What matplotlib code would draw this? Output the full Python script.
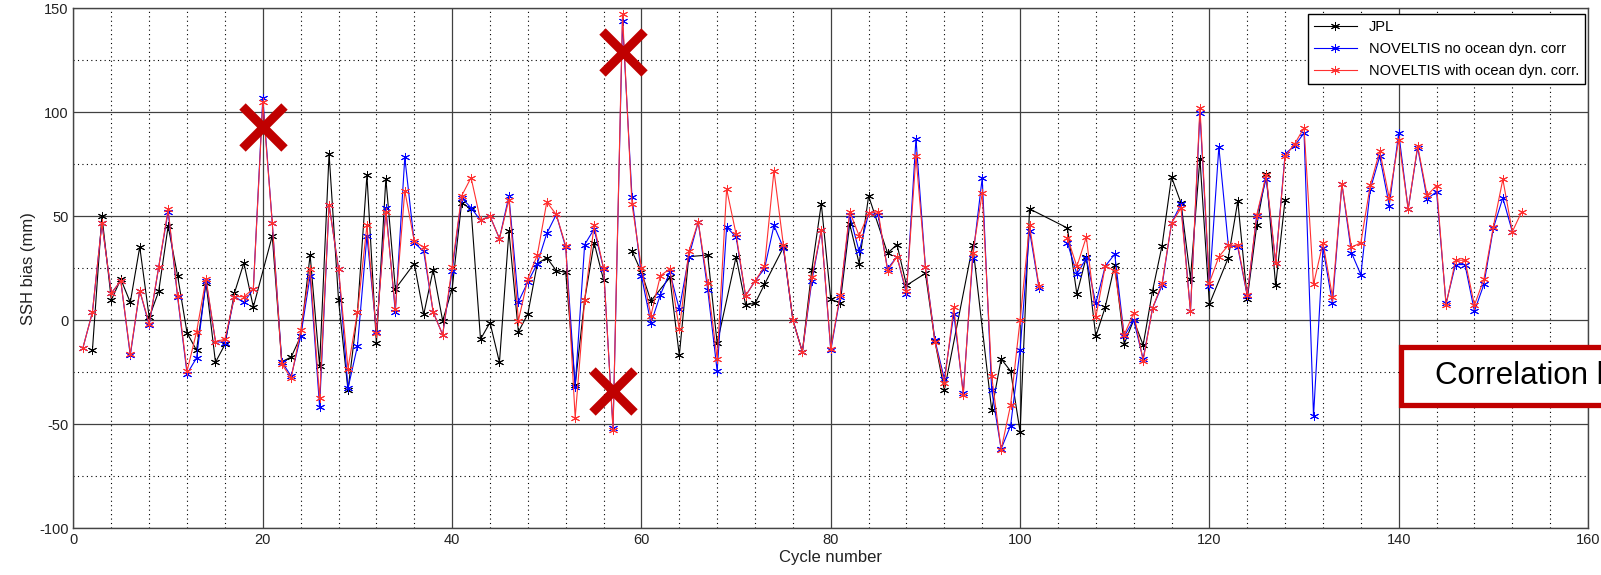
import numpy as np
import matplotlib
matplotlib.use('Agg')
import matplotlib.pyplot as plt
from matplotlib.patches import Rectangle

nan = np.nan

cycles = np.arange(1, 154)

# SSH bias (mm) per cycle; nan = no value
jpl = [nan, -14.5, 50.2, 9.7, 19.7, 8.5, 35.2, 1.3, 13.8, 45.2,
       21.3, -6.2, -14.5, 18, -20.3, -11.7, 13, 27.5, 6.3, nan,
       40.5, -20, -17.8, -7.8, 31.3, -22, 80, 9.7, -33.7, 3.8,
       69.7, -11.2, 68, 15, nan, 27.2, 2.7, 24.3, -0.3, 15,
       56.3, 53.5, -9.2, -1.2, -20.3, 42.7, -5.7, 3, 27.2, 30,
       23.8, 23, -31.2, 9.7, 37.2, 19.3, nan, nan, 33.3, 23,
       9.2, nan, 20.5, -17, 30.5, nan, 31.3, -11.2, nan, 30.5,
       7.5, 8, 17.2, nan, 35, 0, -15.3, 24.3, 56, 10,
       8.3, 46.3, 27.2, 59.7, nan, 32.2, 36.3, 16.7, nan, 22.5,
       -10, -33.7, nan, nan, 36, nan, -43.3, -18.7, -24.5, -53.7,
       53.5, nan, nan, nan, 44.3, 12.5, 30.5, -7.8, 6.3, 26.7,
       -11.5, 0, -12, 14.2, 35.8, 68.8, 56.3, 20, 77.7, 7.7,
       nan, 30, 57.2, 10.2, 45.5, 70.5, 16.7, 58, nan, nan,
       nan, nan, nan, nan, nan, nan, nan, nan, nan, nan,
       nan, nan, nan, nan, nan, nan, nan, nan, nan, nan,
       nan, nan, nan]

nov_no = [-13.3, 3.8, 46.7, 13, 18.8, -17, 14.2, -2.5, 25.5, 52.2,
          11, -25.8, -18.2, 18.8, -10.3, -10.8, 11.3, 8.5, 15, 106.7,
          46.7, -20, -27, -7.8, 21.3, -41.7, 55.5, 24.7, -32.8, -12.5,
          40.5, -5.7, 53.8, 3.8, 78.3, 37.2, 33, 3.8, -7, 23.8,
          58.8, 54, 48, 50, 39.2, 59.7, 8.8, 18.3, 27.2, 41.7,
          50.8, 35, -32, 36.3, 43.8, 24.7, -52, 143.8, 59.3, 21.3,
          -1.5, 12.2, 23, 5.2, 30.5, 47.2, 14.7, -24.5, 44.7, 40,
          11.7, 18.8, 24.7, 45.5, 34.7, 0, -15.3, 18.8, 43.3, -14.5,
          11.3, 50.5, 33, 51.3, 50.5, 24.7, 30.5, 12.7, 87.2, 25.5,
          -9.5, -28.3, 3, -35, 30, 68.3, -33.7, -62, -50.7, -14.2,
          43, 15.5, nan, nan, 37.2, 22.2, 29.7, 8, 26, 31.7,
          -7.8, 0, -18.7, 5.8, 16.7, 46.7, 55.8, 4.2, 99.7, 16.3,
          83.3, 36, 35, 11.7, 50, 68, 27.7, 80, 83.8, 90,
          -46.2, 34.7, 8, 65.5, 32.5, 21.8, 63, 78.8, 55, 90,
          53.3, 83, 58.3, 61.7, 8, 26.7, 26.7, 4.3, 17.2, 44.3,
          58.8, 42.5, nan]

nov_with = [-13.3, 3.8, 46.7, 13, 18.8, -16.2, 14.2, -1.7, 25.5, 53.3,
            11.7, -24.5, -5.7, 20, -10.3, -9.2, 11.3, 11.3, 15, 104.7,
            46.7, -21.2, -27.8, -5, 24.7, -37.5, 55.5, 24.7, -23.3, 3.8,
            45.5, -6.2, 52.2, 5.5, 62.2, 38, 35, 3.8, -7, 25.5,
            59.7, 68.5, 48, 50, 39.2, 58, -0.3, 20, 31.3, 56.8,
            50.8, 35.8, -47, 9.7, 45.5, 25, -52.8, 147.2, 55.8, 25,
            2.2, 21.3, 24.7, -4.5, 33, 47.2, 17.7, -18.7, 63, 41.3,
            11.7, 18.8, 25.8, 71.8, 36, 0, -15.3, 20.5, 43.3, -13.7,
            12.2, 52.2, 40.5, 51.3, 52.2, 23.8, 30.5, 13.8, 78.8, 25.5,
            -10.3, -30.3, 6.3, -36.2, 32.2, 61, -27, -62.3, -40.8, 0,
            45.5, 16.3, nan, nan, 39.7, 25.8, 40, 1.3, 26, 23.8,
            -7, 3.3, -19.5, 5.8, 17.7, 46.7, 53.8, 4.2, 102.2, 18,
            30.5, 36, 36, 12.2, 50.5, 69.7, 27.7, 78.8, 84.7, 92.5,
            17.2, 37.2, 11.3, 65.5, 35, 37.2, 65, 81.3, 58.8, 86.7,
            53.3, 83.8, 60, 64.7, 7.2, 28.8, 28.8, 7.2, 19.7, 45,
            67.7, 42.5, 52.2]

# red crosses marking rejected cycles
cross_x = [20, 58, 57]
cross_y = [93, 129, -34]

plt.rcParams['font.family'] = ['Liberation Sans', 'DejaVu Sans']
plt.rcParams['axes.unicode_minus'] = False

fig = plt.figure(figsize=(16.01, 5.75), dpi=100)
ax = fig.add_axes([0.0459, 0.0817, 0.946, 0.904])

star = (6, 2, 0)
mk = dict(marker=star, markersize=6.5, markeredgewidth=0.7)

# JPL: gaps are skipped (line joins neighbours) except around cycles 57-58
jpl = np.array(jpl)
for part in (cycles <= 56, cycles >= 59):
    sel = part & ~np.isnan(jpl)
    ax.plot(cycles[sel], jpl[sel], '-', color='black', lw=0.8,
            label='JPL' if part[0] else None, **mk)
ax.plot(cycles, nov_no, '-', color='blue', lw=0.8,
        label='NOVELTIS no ocean dyn. corr', **mk)
ax.plot(cycles, nov_with, '-', color='#ff3030', lw=0.8,
        label='NOVELTIS with ocean dyn. corr.', **mk)

ax.plot(cross_x, cross_y, 'x', color='#c00000', markersize=30,
        markeredgewidth=6.5, linestyle='none')

ax.set_xlim(0, 160)
ax.set_ylim(-100, 150)
ax.set_xticks(np.arange(0, 161, 20))
ax.set_yticks(np.arange(-100, 151, 50))
ax.set_xticks(np.arange(0, 161, 4), minor=True)
ax.set_yticks(np.arange(-100, 151, 25), minor=True)
ax.grid(which='major', color='#404040', linestyle='-', linewidth=0.9)
ax.grid(which='minor', color='black', linestyle=(0, (1, 3)), linewidth=0.8)
ax.set_axisbelow(True)
ax.tick_params(which='both', direction='in', length=0, labelsize=10.5,
               colors='#222222')
for s in ax.spines.values():
    s.set_color('#444444')
    s.set_linewidth(1)

ax.set_xlabel('Cycle number', fontsize=12, color='#222222', labelpad=2)
ax.set_ylabel('SSH bias (mm)', fontsize=12, color='#222222', labelpad=2)

leg = ax.legend(loc='upper right', bbox_to_anchor=(0.998, 0.988),
                borderaxespad=0, fontsize=10.5, fancybox=False,
                edgecolor='black', framealpha=1, numpoints=1,
                handlelength=3.0, labelspacing=0.55)
leg.get_frame().set_linewidth(1)

# "Correlation ..." call-out, cut by the right edge as in the source slide
fig.patches.append(Rectangle((0.8751, 0.2957), 0.2, 0.1009,
                             transform=fig.transFigure, facecolor='white',
                             edgecolor='#c00000', linewidth=3.8,
                             clip_on=False, zorder=10))
fig.text(0.8963, 0.346, 'Correlation between', fontsize=22.5,
         va='center', ha='left', zorder=11)

fig.savefig('out.png', dpi=100)
